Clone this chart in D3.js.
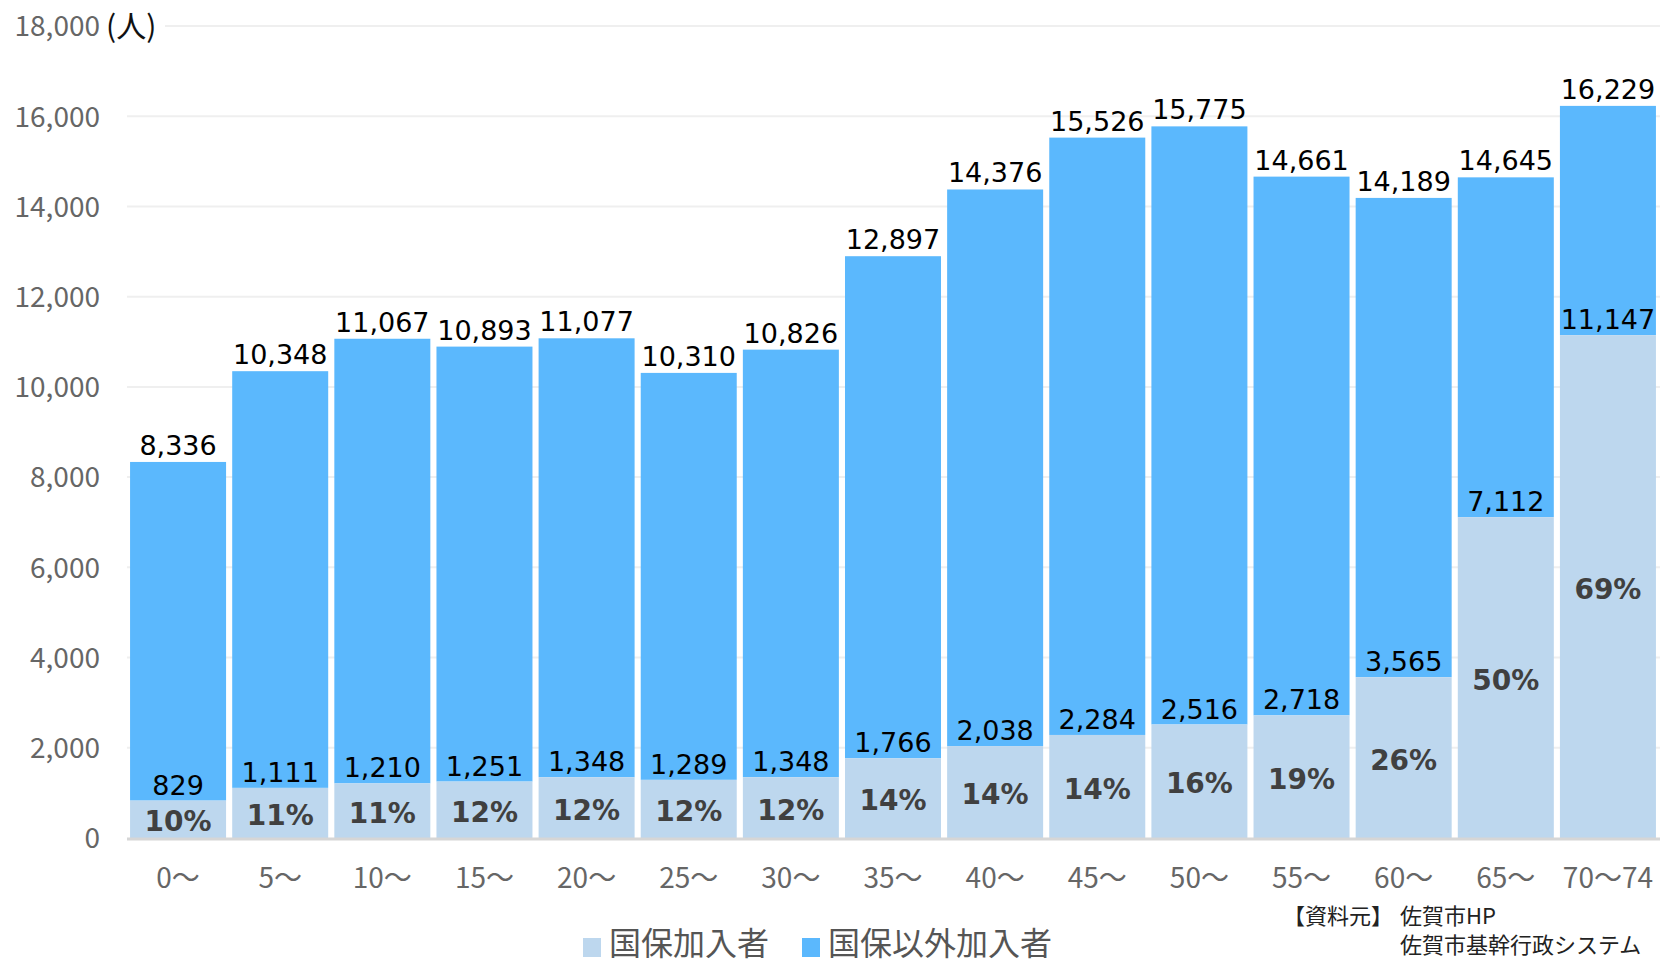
<!DOCTYPE html>
<html>
<head>
<meta charset="utf-8">
<script src="https://cdn.jsdelivr.net/npm/d3@7"></script>
<style>
  html, body { margin: 0; padding: 0; background: #fff; }
  svg { display: block; }
</style>
</head>
<body>
<svg id="chart" width="1666" height="968"></svg>
<script>
// 年齢階級別 国保加入者数と総人口
const ageGroups = ["0～", "5～", "10～", "15～", "20～", "25～", "30～", "35～", "40～", "45～", "50～", "55～", "60～", "65～", "70～74"];
const kokuhoCounts = [829, 1111, 1210, 1251, 1348, 1289, 1348, 1766, 2038, 2284, 2516, 2718, 3565, 7112, 11147];
const totalCounts = [8336, 10348, 11067, 10893, 11077, 10310, 10826, 12897, 14376, 15526, 15775, 14661, 14189, 14645, 16229];
const kokuhoShareLabels = ["10%", "11%", "11%", "12%", "12%", "12%", "12%", "14%", "14%", "14%", "16%", "19%", "26%", "50%", "69%"];
const yTickValues = [0, 2000, 4000, 6000, 8000, 10000, 12000, 14000, 16000, 18000];
const seriesNames = ["国保加入者", "国保以外加入者"];
const sourceLines = ["【資料元】", "佐賀市HP", "佐賀市基幹行政システム"];

const COLOR_KOKUHO = "#bdd7ee";
const COLOR_OTHER = "#5bb8fd";
const jpFont = "'Noto Sans CJK JP', 'Noto Sans', sans-serif";
const numFont = "'DejaVu Sans', Verdana, sans-serif";

const svg = d3.select("#chart");

const x = d3.scaleBand()
  .domain(ageGroups)
  .range([127, 1659])
  .paddingInner(0.06)
  .paddingOuter(0.03);

const y = d3.scaleLinear()
  .domain([0, 18000])
  .range([838, 26]);

const fmt = d3.format(",");

// gridlines
const grid = svg.append("g");
grid.selectAll("line")
  .data(yTickValues.filter(v => v > 0))
  .join("line")
  .attr("x1", d => d === 18000 ? 165 : 127)
  .attr("x2", 1660)
  .attr("y1", d => y(d))
  .attr("y2", d => y(d))
  .attr("stroke", "#efefef")
  .attr("stroke-width", 2);

// y axis labels
const yAxis = d3.axisLeft(y).tickValues(yTickValues).tickFormat(d => d3.format(",")(d)).tickSize(0).tickPadding(0);
const yAxisG = svg.append("g").attr("transform", "translate(100,0)").call(yAxis);
yAxisG.select(".domain").remove();
yAxisG.selectAll("text")
  .attr("font-family", jpFont)
  .attr("font-size", 28)
  .attr("fill", "#666")
  .attr("dy", "0.35em");

svg.append("text")
  .attr("x", 106)
  .attr("y", y(18000))
  .attr("dy", "0.36em")
  .attr("font-family", jpFont)
  .attr("font-size", 30)
  .attr("fill", "#111")
  .text("(人)");

// stacked bars: 国保加入者 at the base, 国保以外 on top up to the total
const rows = ageGroups.map((g, i) => ({
  group: g,
  kokuho: kokuhoCounts[i],
  total: totalCounts[i],
  share: kokuhoShareLabels[i]
}));

const bars = svg.append("g");
bars.selectAll("rect.other")
  .data(rows)
  .join("rect")
  .attr("class", "other")
  .attr("x", d => x(d.group))
  .attr("width", x.bandwidth())
  .attr("y", d => y(d.total))
  .attr("height", d => y(d.kokuho) - y(d.total))
  .attr("fill", COLOR_OTHER);

bars.selectAll("rect.kokuho")
  .data(rows)
  .join("rect")
  .attr("class", "kokuho")
  .attr("x", d => x(d.group))
  .attr("width", x.bandwidth())
  .attr("y", d => y(d.kokuho))
  .attr("height", d => y(0) - y(d.kokuho))
  .attr("fill", COLOR_KOKUHO);

// baseline
svg.append("line")
  .attr("x1", 127).attr("x2", 1660)
  .attr("y1", y(0) + 1).attr("y2", y(0) + 1)
  .attr("stroke", "#d6d6d6")
  .attr("stroke-width", 3);

// x axis labels
const xAxis = d3.axisBottom(x).tickSize(0).tickPadding(0);
const xAxisG = svg.append("g").attr("transform", "translate(0,878)").call(xAxis);
xAxisG.select(".domain").remove();
xAxisG.selectAll("text")
  .attr("font-family", jpFont)
  .attr("font-size", 28)
  .attr("fill", "#666")
  .attr("dy", "0.35em");

// total labels
const labels = svg.append("g");
labels.selectAll("text.total")
  .data(rows)
  .join("text")
  .attr("class", "total")
  .attr("x", d => x(d.group) + x.bandwidth() / 2)
  .attr("y", d => y(d.total) - 7)
  .attr("text-anchor", "middle")
  .attr("font-family", numFont)
  .attr("font-size", 27)
  .attr("fill", "#000")
  .text(d => fmt(d.total));

// 国保加入者 labels
labels.selectAll("text.kokuho")
  .data(rows)
  .join("text")
  .attr("class", "kokuho")
  .attr("x", d => x(d.group) + x.bandwidth() / 2)
  .attr("y", d => y(d.kokuho) - 6)
  .attr("text-anchor", "middle")
  .attr("font-family", numFont)
  .attr("font-size", 27)
  .attr("fill", "#000")
  .text(d => fmt(d.kokuho));

// share labels, centered in the 国保 segment
labels.selectAll("text.share")
  .data(rows)
  .join("text")
  .attr("class", "share")
  .attr("x", d => x(d.group) + x.bandwidth() / 2)
  .attr("y", d => (y(d.kokuho) + y(0)) / 2 + 2)
  .attr("dy", "0.36em")
  .attr("text-anchor", "middle")
  .attr("font-family", numFont)
  .attr("font-weight", "bold")
  .attr("font-size", 28)
  .attr("fill", "#404040")
  .text(d => d.share);

// legend
const legend = svg.append("g");
const legendItems = [
  { name: seriesNames[0], color: COLOR_KOKUHO, x: 583 },
  { name: seriesNames[1], color: COLOR_OTHER, x: 802 }
];
legend.selectAll("rect")
  .data(legendItems)
  .join("rect")
  .attr("x", d => d.x)
  .attr("y", 938)
  .attr("width", 18)
  .attr("height", 19)
  .attr("fill", d => d.color);
legend.selectAll("text")
  .data(legendItems)
  .join("text")
  .attr("x", d => d.x + 26)
  .attr("y", 943)
  .attr("dy", "0.36em")
  .attr("font-family", jpFont)
  .attr("font-size", 32)
  .attr("fill", "#555")
  .text(d => d.name);

// source note
const src = svg.append("g")
  .attr("font-family", jpFont)
  .attr("font-size", 22)
  .attr("fill", "#222");
src.append("text").attr("x", 1283).attr("y", 916).attr("dy", "0.36em").text(sourceLines[0]);
src.append("text").attr("x", 1400).attr("y", 916).attr("dy", "0.36em").text(sourceLines[1]);
src.append("text").attr("x", 1400).attr("y", 945).attr("dy", "0.36em").text(sourceLines[2]);
</script>
</body>
</html>
